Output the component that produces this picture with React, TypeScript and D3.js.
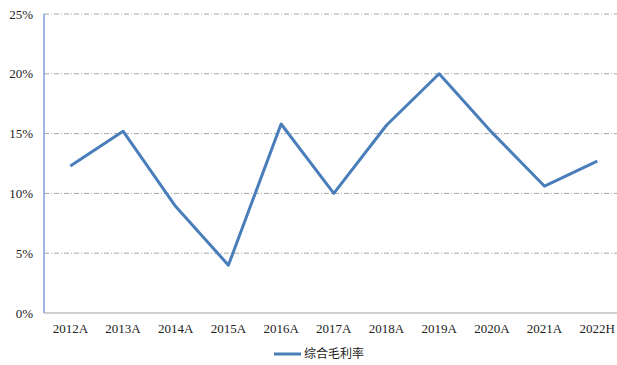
import React from "react";
import * as d3 from "d3";

const categories = ["2012A", "2013A", "2014A", "2015A", "2016A", "2017A", "2018A", "2019A", "2020A", "2021A", "2022H"];
const values = [12.3, 15.2, 8.9, 4.0, 15.8, 10.0, 15.7, 20.0, 15.1, 10.6, 12.7];
const yTicks = [0, 5, 10, 15, 20, 25];
const seriesName = "综合毛利率";

export default function App() {
  const W = 617, H = 365;
  const left = 44, right = 623.6, top = 14, bottom = 313;
  const x = d3.scaleBand<string>().domain(categories).range([left, right]);
  const y = d3.scaleLinear().domain([0, 25]).range([bottom, top]);
  const line = d3.line<number>()
    .x((_, i) => (x(categories[i]) as number) + x.bandwidth() / 2)
    .y((d) => y(d));
  const font = "'Times New Roman', 'Liberation Serif', serif";
  return (
    <svg width={W} height={H} style={{ position: "absolute", left: 0, top: 0, background: "#fff" }}>
      {yTicks.filter((t) => t > 0).map((t) => (
        <line key={t} x1={left} x2={right} y1={y(t)} y2={y(t)} stroke="#a6a6a6" strokeWidth={1} strokeDasharray="5,2,1,2" />
      ))}
      <line x1={left} x2={right} y1={bottom} y2={bottom} stroke="#bfbfbf" strokeWidth={1.5} />
      <line x1={left} x2={left} y1={top} y2={bottom} stroke="#7ba0d6" strokeWidth={1.5} />
      {yTicks.map((t) => (
        <text key={t} x={33} y={y(t)} dy="0.35em" textAnchor="end" fontFamily={font} fontSize={13} fill="#222">{t}%</text>
      ))}
      {categories.map((c) => (
        <text key={c} x={(x(c) as number) + x.bandwidth() / 2} y={333} textAnchor="middle" fontFamily={font} fontSize={13} fill="#222">{c}</text>
      ))}
      <path d={line(values) ?? ""} fill="none" stroke="#4a7ebb" strokeWidth={3} strokeLinejoin="round" />
      <line x1={274} x2={301} y1={354} y2={354} stroke="#4a7ebb" strokeWidth={3} />
      <text x={304} y={354} dy="0.35em" fontFamily="'Noto Sans CJK SC', sans-serif" fontSize={12} fill="#222">{seriesName}</text>
    </svg>
  );
}
